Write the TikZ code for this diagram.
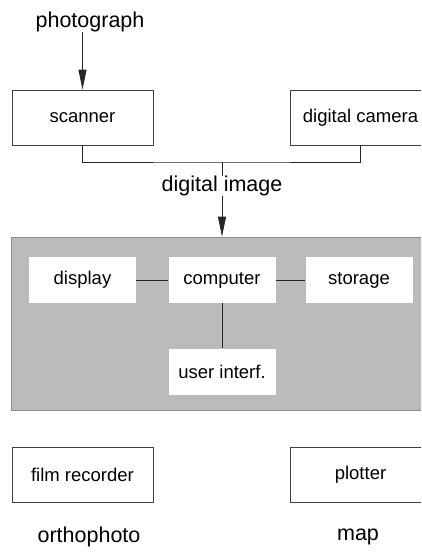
\documentclass[tikz,border=0pt]{standalone}
\usepackage{fontspec}
\setmainfont{Liberation Sans}
\usetikzlibrary{arrows.meta}
\definecolor{panelgray}{RGB}{187,187,187}
\tikzset{
  box/.style={draw=black!75, line width=0.8pt, fill=white, minimum width=141pt, minimum height=55pt, inner sep=0pt, font=\fontsize{18.5}{22}\selectfont},
  inbox/.style={draw=none, fill=white, minimum width=107pt, minimum height=46pt, inner sep=0pt, font=\fontsize{18.5}{22}\selectfont},
  outer/.style={inner sep=0pt, font=\fontsize{21.5}{26}\selectfont},
  conn/.style={draw=black!85, line width=0.8pt},
  arr/.style={conn, -{Triangle[length=20pt,width=8pt]}}
}
\begin{document}
\begin{tikzpicture}[x=1pt,y=-1pt]
\useasboundingbox (0,0) rectangle (421,557);
\clip (0,0) rectangle (421,557);
% panel
\node[draw=black!45, line width=0.8pt, fill=panelgray, minimum width=422pt, minimum height=173pt, inner sep=0pt] (panel) at (222,323.5) {};
% top
\node[outer] (photo) at (90,22) {photograph};
\node[box] (scanner) at (82.5,117.5) {scanner};
\node[box] (camera) at (360.5,117.5) {digital camera};
\draw[arr] (photo.south -| scanner.north) -- (scanner.north);
\coordinate (j) at (222,162);
\draw[conn] (scanner.south) |- (j) -| (camera.south);
\draw[arr] (j) -- (panel.north);
\node[outer, fill=white] (dimg) at (222,186) {digital image};
% computer system
\node[inbox] (display) at (82.5,280) {display};
\node[inbox] (computer) at (222,280) {computer};
\node[inbox] (storage) at (359,280) {storage};
\node[inbox] (ui) at (222,371.5) {user interf.};
\draw[conn] (display) -- (computer);
\draw[conn] (computer) -- (storage);
\draw[conn] (computer) -- (ui);
% outputs
\node[box] (film) at (82.5,474.5) {film recorder};
\node[box] (plotter) at (360.5,474.5) {plotter};
\node[outer] (ortho) at (89,537) {orthophoto};
\node[outer] (map) at (358,537) {map};
\end{tikzpicture}
\end{document}
